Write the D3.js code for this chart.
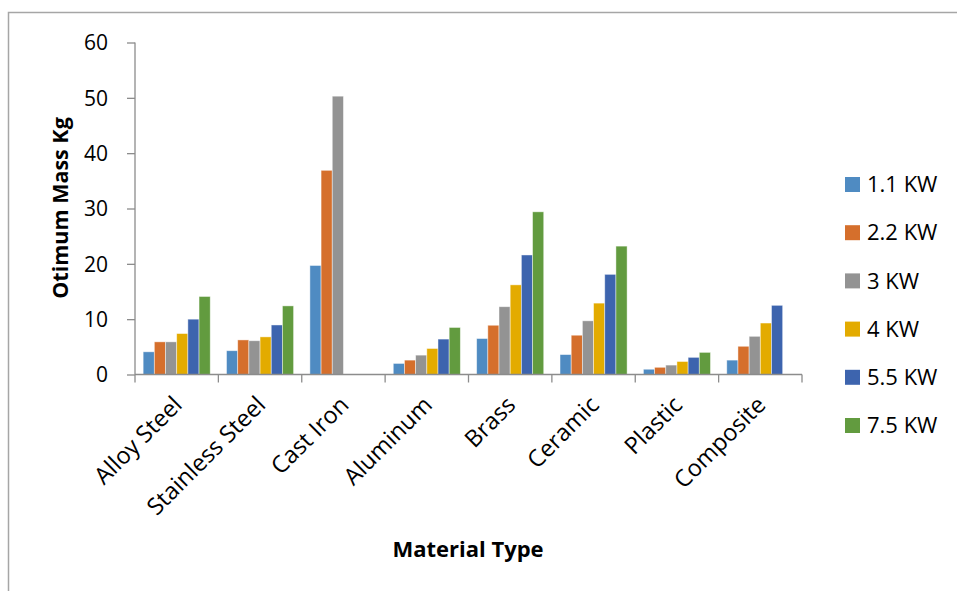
<!DOCTYPE html>
<html>
<head>
<meta charset="utf-8">
<script src="https://cdn.jsdelivr.net/npm/d3@7"></script>
<style>
  html, body { margin: 0; padding: 0; background: #fff; }
  svg { display: block; }
  text { font-family: "Open Sans", Carlito, Calibri, sans-serif; fill: #000; }
</style>
</head>
<body>
<svg id="chart" width="957" height="591"></svg>
<script>
const categories = ["Alloy Steel", "Stainless Steel", "Cast Iron", "Aluminum", "Brass", "Ceramic", "Plastic", "Composite"];
const seriesNames = ["1.1 KW", "2.2 KW", "3 KW", "4 KW", "5.5 KW", "7.5 KW"];
const kw11 = [4.1, 4.3, 19.7, 2.0, 6.5, 3.6, 0.95, 2.6];
const kw22 = [5.9, 6.25, 36.9, 2.6, 8.9, 7.1, 1.3, 5.1];
const kw3  = [5.9, 6.1, 50.3, 3.5, 12.25, 9.7, 1.7, 6.9];
const kw4  = [7.4, 6.8, null, 4.7, 16.2, 12.9, 2.35, 9.3];
const kw55 = [10.0, 8.95, null, 6.4, 21.6, 18.1, 3.1, 12.5];
const kw75 = [14.1, 12.4, null, 8.5, 29.4, 23.2, 4.0, null];
const seriesValues = [kw11, kw22, kw3, kw4, kw55, kw75];
const yTicks = [0, 10, 20, 30, 40, 50, 60];
const colors = ["#4F8BC2", "#D56F2C", "#939393", "#E3AB00", "#3D64AE", "#629B3F"];

(function () {
const svg = d3.select("#chart");
const pLeft = 135, pRight = 802, pTop = 42.5, pBottom = 374.5;
const FONT = "'Open Sans', Carlito, Calibri, sans-serif";

// outer frame
svg.append("path").attr("d", "M8.5,591 V12.5 H957")
  .attr("fill", "none").attr("stroke", "#A6A6A6").attr("stroke-width", 1.5);

const x0 = d3.scaleBand().domain(categories).range([pLeft, pRight]).paddingInner(0).paddingOuter(0);
const gapFrac = 16.3 / 83.375;
const x1 = d3.scaleBand().domain(seriesNames)
  .range([x0.bandwidth() * gapFrac / 2, x0.bandwidth() * (1 - gapFrac / 2)]).padding(0);
const y = d3.scaleLinear().domain([0, 60]).range([pBottom, pTop]);

// bars
const g = svg.append("g");
seriesNames.forEach((s, si) => {
  g.selectAll(null).data(categories.map((c, ci) => ({c, v: seriesValues[si][ci]})).filter(d => d.v != null))
    .enter().append("rect")
    .attr("x", d => x0(d.c) + x1(s))
    .attr("y", d => y(d.v))
    .attr("width", x1.bandwidth())
    .attr("height", d => y(0) - y(d.v))
    .attr("fill", colors[si])
    .attr("stroke", "#fff").attr("stroke-opacity", 0.55).attr("stroke-width", 0.8);
});

// y axis
const yAxis = d3.axisLeft(y).tickValues(yTicks).tickSize(8).tickPadding(19).tickFormat(d3.format("d"));
const ya = svg.append("g").attr("transform", `translate(${pLeft},0)`).call(yAxis);
ya.select(".domain").attr("stroke", "#8C8C8C").attr("stroke-width", 1.3).attr("d", `M0,${pTop}V${pBottom}`);
ya.selectAll(".tick line").attr("stroke", "#8C8C8C").attr("stroke-width", 1.3);
ya.selectAll(".tick text").style("font-size", "21px").attr("dy", "0.35em")
  .style("font-family", FONT).attr("fill", "#000");

// x axis
const xAxis = d3.axisBottom(x0).tickSize(0).tickFormat("");
const xa = svg.append("g").attr("transform", `translate(0,${pBottom})`).call(xAxis);
xa.select(".domain").attr("stroke", "#8C8C8C").attr("stroke-width", 1.3).attr("d", `M${pLeft},0H${pRight}`);
xa.selectAll(".tick").remove();
const xBounds = categories.map(c => x0(c)).concat([pRight]);
xa.selectAll("line.sep").data(xBounds).enter().append("line")
  .attr("x1", d => d).attr("x2", d => d).attr("y1", 0).attr("y2", 8)
  .attr("stroke", "#8C8C8C").attr("stroke-width", 1.3);

// x labels rotated -45
svg.append("g").selectAll("text").data(categories).enter().append("text")
  .attr("transform", d => `translate(${x0(d) + x0.bandwidth() / 2 + 1},${pBottom + 26}) rotate(-45)`)
  .attr("text-anchor", "end")
  .attr("dy", "0.35em")
  .style("font-size", "23.5px")
  .text(d => d);

// axis titles
svg.append("text").attr("transform", "translate(60,208) rotate(-90)")
  .attr("text-anchor", "middle").attr("dy", "0.35em")
  .style("font-size", "21.5px").style("font-weight", "bold").text("Otimum Mass Kg");
svg.append("text").attr("x", 468).attr("y", 549).attr("text-anchor", "middle").attr("dy", "0.35em")
  .style("font-size", "22px").style("font-weight", "bold").text("Material Type");

// legend
const lg = svg.append("g");
seriesNames.forEach((s, i) => {
  const cy = 184.5 + i * 48.2;
  lg.append("rect").attr("x", 845).attr("y", cy - 7.5).attr("width", 15).attr("height", 15).attr("fill", colors[i]);
  lg.append("text").attr("x", 867).attr("y", cy).attr("dy", "0.35em").style("font-size", "22px").text(s);
});
})();
</script>
</body>
</html>
